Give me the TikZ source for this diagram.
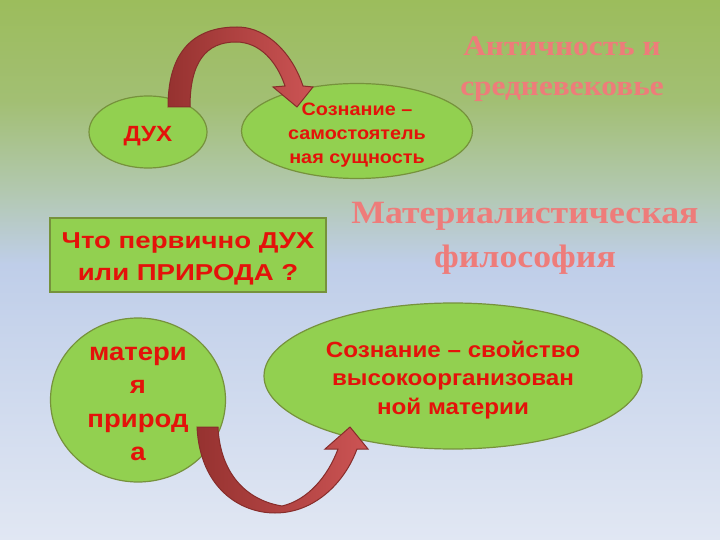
\documentclass[tikz,border=0pt]{standalone}
\usepackage{fontspec}
\setmainfont[FakeStretch=1.1]{Liberation Serif}
\setsansfont[FakeStretch=1.1]{Liberation Sans}
\newfontfamily\widesans[FakeStretch=1.2]{Liberation Sans}
\usepackage{xcolor}
\usetikzlibrary{shapes.geometric}

\definecolor{leaf}{RGB}{146,208,80}
\definecolor{leafline}{RGB}{118,146,60}
\definecolor{inkred}{RGB}{228,18,10}
\definecolor{rose}{RGB}{238,124,122}
\definecolor{arrowdark}{RGB}{150,50,48}
\definecolor{arrowlight}{RGB}{204,84,84}
\definecolor{arrowline}{RGB}{135,45,43}
\definecolor{bgtop}{RGB}{156,189,92}
\definecolor{bgsage}{RGB}{162,191,115}
\definecolor{bggray}{RGB}{178,200,175}
\definecolor{bgblue}{RGB}{191,206,233}
\definecolor{bgbot}{RGB}{225,231,243}
\pgfdeclareverticalshading{slidebg}{100bp}{color(0bp)=(bgbot); color(25bp)=(bgbot); color(50.5bp)=(bgblue); color(57.4bp)=(bggray); color(65.7bp)=(bgsage); color(75bp)=(bgtop); color(100bp)=(bgtop)}

\begin{document}
\begin{tikzpicture}[x=1pt, y=-1pt,
	blob/.style={ellipse, draw=leafline, line width=1.2pt, fill=leaf, inner sep=0pt},
	box/.style={rectangle, draw=leafline, line width=1.6pt, fill=leaf, inner sep=0pt},
	words/.style={text=inkred, align=center, yshift=-4pt},
	arcarrow/.style={draw=arrowline, line width=1pt, left color=arrowdark, right color=arrowlight},
	title/.style={text=rose, align=center, font=\bfseries\fontsize{28.5}{40}\selectfont}]
	
	\shade [shading=slidebg] (0,0) rectangle (720,540);
	\useasboundingbox (0,0) rectangle (720,540);
	
	\node [blob, minimum width=118pt, minimum height=72pt,
		label={[words, font=\sffamily\bfseries\fontsize{22}{26}\selectfont]center:ДУХ}] (duh) at (148,132) {};
	\node [blob, minimum width=231pt, minimum height=95pt,
		label={[words, font=\sffamily\bfseries\fontsize{18}{24}\selectfont]center:Сознание –\\самостоятель\\ная сущность}] (self) at (357,131) {};
	
	\node [box, minimum width=276pt, minimum height=74pt,
		label={[words, font=\widesans\bfseries\fontsize{23}{32}\selectfont]center:Что первично ДУХ\\или ПРИРОДА ?}] (question) at (188,255) {};
	
	\node [blob, minimum width=175pt, minimum height=164pt,
		label={[words, font=\sffamily\bfseries\fontsize{25}{33.5}\selectfont]center:матери\\я\\природ\\а}] (matter) at (138,400) {};
	\node [blob, minimum width=378pt, minimum height=146pt,
		label={[words, font=\sffamily\bfseries\fontsize{22}{28.5}\selectfont]center:Сознание – свойство\\высокоорганизован\\ной материи}] (property) at (453,376) {};
	
	\node [title] (antiq) at (562,69) {Античность и\\средневековье};
	\node [title, font=\bfseries\fontsize{32.5}{44}\selectfont] (matphil) at (525,238) {Материалистическая\\философия};
	
	% curved arrows
	\draw [arcarrow] (168,107) .. controls (168,45) and (200,27) .. (237,27)
		.. controls (270,27) and (294,58) .. (303,86) -- (313,87) -- (297,107) -- (273,87) -- (285,86)
		.. controls (277,62) and (260,42) .. (236,42)
		.. controls (206,42) and (190,62) .. (190,107) -- cycle;
	\draw [arcarrow] (197,427) .. controls (200,488) and (240,513) .. (275,513)
		.. controls (315,513) and (345,482) .. (357,449) -- (368,449) -- (350,427) -- (325,449) -- (338,449)
		.. controls (328,476) and (308,500) .. (282,506)
		.. controls (245,500) and (220,472) .. (218,427) -- cycle;
\end{tikzpicture}
\end{document}
